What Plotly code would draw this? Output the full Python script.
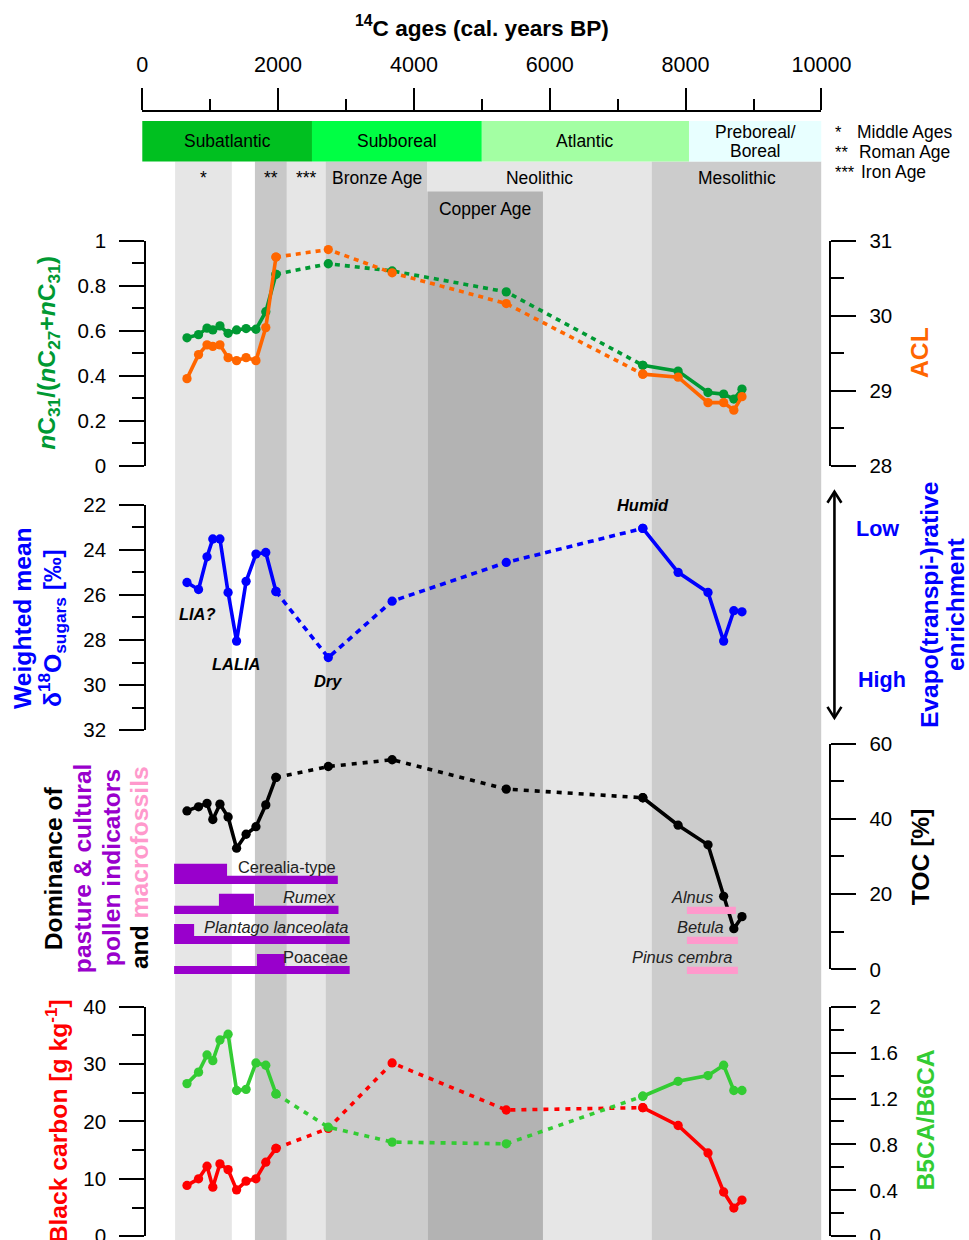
import plotly.graph_objects as go

# Calibration of the rendered page: observed screen position = A + S * figure pixel.
SX, AX = 0.965, 4.7
SY, AY = 0.981, 11.6
W, H = 1000, 1252
FS = 1.028  # font / size compensation for the page scaling

# ---------------- data ----------------
ages = [660, 830, 955, 1040, 1145, 1265, 1390, 1530, 1675, 1820, 1970,
        2740, 3680, 5360, 7370, 7890, 8330, 8560, 8710, 8830]
nc31_ratio = [0.568, 0.582, 0.611, 0.603, 0.621, 0.588, 0.603, 0.609, 0.606, 0.684, 0.850,
              0.897, 0.865, 0.772, 0.446, 0.420, 0.325, 0.318, 0.296, 0.340]
acl = [29.16, 29.48, 29.61, 29.59, 29.61, 29.44, 29.40, 29.44, 29.40, 29.84, 30.78,
       30.88, 30.57, 30.16, 29.22, 29.18, 28.84, 28.84, 28.74, 28.92]
d18o_sugars = [25.45, 25.76, 24.31, 23.52, 23.52, 25.89, 28.05, 25.40, 24.19, 24.12, 25.85,
               28.78, 26.28, 24.56, 23.05, 25.00, 25.89, 28.05, 26.70, 26.75]
toc = [42.1, 43.2, 44.1, 39.8, 43.9, 40.5, 32.2, 35.9, 37.9, 43.7, 51.0,
       53.9, 55.7, 47.9, 45.6, 38.3, 33.1, 19.4, 10.8, 14.0]
black_carbon = [8.85, 10.0, 12.2, 8.55, 12.6, 11.6, 8.08, 9.6, 10.0, 12.9, 15.3,
                18.8, 30.2, 22.0, 22.4, 19.3, 14.5, 7.7, 4.9, 6.3]
b5ca_b6ca = [1.33, 1.43, 1.58, 1.53, 1.71, 1.76, 1.27, 1.28, 1.51, 1.49, 1.24,
             0.95, 0.82, 0.805, 1.22, 1.35, 1.40, 1.49, 1.27, 1.27]

climate_names = ["Subatlantic", "Subboreal", "Atlantic", "Preboreal/<br>Boreal"]
climate_start = [0, 2500, 5000, 8050]
climate_end = [2500, 5000, 8050, 10000]

arch_names = ["*", "**", "***", "Bronze Age", "Neolithic", "Copper Age", "Mesolithic"]
arch_start = [485, 1660, 2130, 2700, 4200, 4200, 7500]
arch_end = [1320, 2130, 2700, 4200, 7500, 5900, 10000]

pollen_taxa = ["Cerealia-type", "<i>Rumex</i>", "<i>Plantago lanceolata</i>", "Poaceae"]
pollen_start = [470, 470, 470, 470]
pollen_end = [2880, 2890, 3055, 3055]
pollen_peak_start = [470, 1130, 470, 1690]
pollen_peak_end = [1250, 1645, 765, 2100]

macro_taxa = ["<i>Alnus</i>", "<i>Betula</i>", "<i>Pinus cembra</i>"]
macro_start = [8020, 8020, 8020]
macro_end = [8740, 8770, 8770]

x_ticks = [0, 2000, 4000, 6000, 8000, 10000]

# ---------------- styles ----------------
FONT = "Liberation Sans, Arial, sans-serif"
GREEN1 = "#009933"
ORANGE = "#ff6600"
BLUE = "#0000ff"
RED = "#ff0000"
GREEN2 = "#33cc33"
PURPLE = "#9900cc"
PINK = "#ff99cc"
climate_colors = ["#00c020", "#00ff44", "#a3ffa3", "#e8ffff"]
arch_colors = {"*": "#e6e6e6", "**": "#c8c8c8", "***": "#e6e6e6", "Bronze Age": "#cccccc",
               "Neolithic": "#e6e6e6", "Copper Age": "#b3b3b3", "Mesolithic": "#cccccc"}


def clamp(v):
    return min(1.0, max(0.0, v))


def px_x(p):
    return clamp(((p - AX) / SX) / W)


def px_y(p):
    return clamp(1 - ((p - AY) / SY) / H)


def fsz(s):
    return round(s * FS, 2)


fig = go.Figure()

LW = 3.6
MS = 9.3


def add_series(vals, yaxis, color, dash):
    first = list(range(0, 11))
    last = list(range(14, len(ages)))
    xs = [ages[i] for i in first] + [None] + [ages[i] for i in last]
    ys = [vals[i] for i in first] + [None] + [vals[i] for i in last]
    fig.add_trace(go.Scatter(x=xs, y=ys, xaxis="x", yaxis=yaxis, mode="lines+markers",
                             line=dict(color=color, width=LW), marker=dict(color=color, size=MS),
                             connectgaps=False, hoverinfo="skip"))
    fig.add_trace(go.Scatter(x=ages[10:15], y=vals[10:15], xaxis="x", yaxis=yaxis,
                             mode="lines+markers",
                             line=dict(color=color, width=LW, dash=dash),
                             marker=dict(color=color, size=MS), hoverinfo="skip"))


add_series(acl, "y2", ORANGE, "5px,5px")
add_series(nc31_ratio, "y", GREEN1, "5px,5px")
add_series(d18o_sugars, "y3", BLUE, "6px,5px")
add_series(toc, "y4", "black", "5px,6px")
add_series(b5ca_b6ca, "y7", GREEN2, "5px,6px")
add_series(black_carbon, "y6", RED, "5px,6px")

# pollen step bars (row units on hidden axis y5)
LOW, HIGH = 0.27, 0.67
for i, name in enumerate(pollen_taxa):
    r = 3 - i
    s, e, ps, pe = pollen_start[i], pollen_end[i], pollen_peak_start[i], pollen_peak_end[i]
    xs = [s, e, e, pe, pe, ps, ps, s, s]
    ys = [r, r, r + LOW, r + LOW, r + HIGH, r + HIGH, r + LOW, r + LOW, r]
    fig.add_trace(go.Scatter(x=xs, y=ys, xaxis="x", yaxis="y5", mode="lines", fill="toself",
                             fillcolor=PURPLE, line=dict(width=0, color=PURPLE), hoverinfo="skip"))
for i, name in enumerate(macro_taxa):
    r = 2 - i
    s, e = macro_start[i], macro_end[i]
    fig.add_trace(go.Scatter(x=[s, e, e, s, s], y=[r, r, r + 0.24, r + 0.24, r], xaxis="x", yaxis="y5",
                             mode="lines", fill="toself", fillcolor=PINK,
                             line=dict(width=0, color=PINK), hoverinfo="skip"))

shapes = []
# archaeological background bands
for i, name in enumerate(arch_names):
    top = 191 if name == "Copper Age" else 161
    shapes.append(dict(type="rect", xref="x", yref="paper", x0=arch_start[i], x1=arch_end[i],
                       y0=0, y1=px_y(top), fillcolor=arch_colors[name], line=dict(width=0),
                       layer="below"))
# climate boxes
for i, name in enumerate(climate_names):
    shapes.append(dict(type="rect", xref="x", yref="paper", x0=climate_start[i], x1=climate_end[i],
                       y0=px_y(161), y1=px_y(120.5), fillcolor=climate_colors[i], line=dict(width=0),
                       layer="below"))
# double arrow for evaporative enrichment
ax_x = 834
shapes.append(dict(type="line", xref="paper", yref="paper", x0=px_x(ax_x), x1=px_x(ax_x),
                   y0=px_y(492), y1=px_y(716), line=dict(color="black", width=2.6)))
shapes.append(dict(type="path", xref="paper", yref="paper",
                   path=f"M {px_x(827)},{px_y(502)} L {px_x(ax_x)},{px_y(491)} L {px_x(841)},{px_y(502)}",
                   line=dict(color="black", width=2.6)))
shapes.append(dict(type="path", xref="paper", yref="paper",
                   path=f"M {px_x(827)},{px_y(706)} L {px_x(ax_x)},{px_y(717)} L {px_x(841)},{px_y(706)}",
                   line=dict(color="black", width=2.6)))

annotations = []


def ann(text, x, y, size, color="black", xref="paper", yref="paper", angle=0,
        xanchor="center", yanchor="middle"):
    annotations.append(dict(text=text, x=x, y=y, xref=xref, yref=yref, showarrow=False,
                            font=dict(size=fsz(size), color=color, family=FONT), textangle=angle,
                            xanchor=xanchor, yanchor=yanchor))


# title
ann("<b><sup>14</sup>C ages (cal. years BP)</b>", px_x(481), px_y(26), 22)
# climate labels (multi-line names split into separate lines)
for i, name in enumerate(climate_names):
    lines = name.split("<br>")
    cx = (climate_start[i] + climate_end[i]) / 2
    for j, ln in enumerate(lines):
        yy = 141 + (j - (len(lines) - 1) / 2) * 19
        ann(ln, cx, px_y(yy), 17, xref="x")
# archaeology labels
for i, name in enumerate(arch_names):
    cx = (arch_start[i] + arch_end[i]) / 2
    ann(name, cx, px_y(208 if name == "Copper Age" else 177), 17, xref="x")
# legend for stars
for k, (stars, label, lx) in enumerate([("*", "Middle Ages", 855), ("**", "Roman Age", 857),
                                        ("***", "Iron Age", 859)]):
    yy = px_y(132 + 19.5 * k)
    ann(stars, px_x(833), yy, 16, xanchor="left")
    ann(label, px_x(lx), yy, 17, xanchor="left")

# panel 1 titles
ann("<b><i>n</i>C<sub>31</sub>/(<i>n</i>C<sub>27</sub>+<i>n</i>C<sub>31</sub>)</b>",
    px_x(47), px_y(352), 24, GREEN1, angle=-90)
ann("<b>ACL</b>", px_x(919), px_y(352), 24, ORANGE, angle=-90)

# panel 2 titles
ann("<b>Weighted mean</b>", px_x(22), px_y(617), 24, BLUE, angle=-90)
ann("<b>δ<sup>18</sup>O<sub>sugars</sub> [‰]</b>", px_x(51), px_y(627), 24, BLUE, angle=-90)
ann("<b>Evapo(transpi-)rative</b>", px_x(929), px_y(604), 24, BLUE, angle=-90)
ann("<b>enrichment</b>", px_x(955), px_y(604), 24, BLUE, angle=-90)
ann("<b>Low</b>", px_x(877), px_y(528), 21, BLUE)
ann("<b>High</b>", px_x(882), px_y(679), 21, BLUE)
ann("<b><i>LIA?</i></b>", 808, 26.84, 16, xref="x", yref="y3")
ann("<b><i>LALIA</i></b>", 1380, 29.06, 16, xref="x", yref="y3")
ann("<b><i>Dry</i></b>", 2731, 29.81, 16, xref="x", yref="y3")
ann("<b><i>Humid</i></b>", 7372, 22.0, 16, xref="x", yref="y3")

# panel 3 titles
ann("<b>Dominance of</b>", px_x(53), px_y(867), 24, "black", angle=-90)
ann("<b>pasture &amp; cultural</b>", px_x(82), px_y(867), 24, PURPLE, angle=-90)
ann("<b>pollen indicators</b>", px_x(111), px_y(867), 24, PURPLE, angle=-90)
ann(f"<b>and <span style='color:{PINK}'>macrofossils</span></b>", px_x(139), px_y(867), 24,
    "black", angle=-90)
ann("<b>TOC [%]</b>", px_x(921), px_y(856), 24, "black", angle=-90)
for i, name in enumerate(pollen_taxa):
    ann(name, pollen_end[i], 3 - i + 0.56, 16, "#222222", xref="x", yref="y5", xanchor="right")
macro_label_x = [8430, 8590, 8722]
for i, name in enumerate(macro_taxa):
    ann(name, macro_label_x[i], 2 - i + 0.56, 16, "#222222", xref="x", yref="y5", xanchor="right")

# panel 4 titles
ann("<b>Black carbon [g kg<sup>-1</sup>]</b>", px_x(55), px_y(1120), 24, RED, angle=-90)
ann("<b>B5CA/B6CA</b>", px_x(925), px_y(1119), 24, GREEN2, angle=-90)

YT = 24 / SX  # horizontal tick length in figure px
XT = 22 / SY  # vertical tick length in figure px


def yax(top_px, bot_px, rng, side, pos_px, tickvals, minor_vals, ticktext=None, overlay=None):
    d = dict(range=rng, anchor="free", position=px_x(pos_px), side=side, showline=True,
             linecolor="black", linewidth=2, ticks="outside", ticklen=YT, tickwidth=2,
             tickcolor="black", tickvals=tickvals, ticktext=ticktext or [str(v) for v in tickvals],
             minor=dict(tickvals=minor_vals, ticklen=YT / 2, tickwidth=2, tickcolor="black",
                        ticks="outside"),
             showgrid=False, zeroline=False, tickfont=dict(size=fsz(20), color="black", family=FONT),
             ticklabelstandoff=9, fixedrange=True)
    if overlay:
        d["overlaying"] = overlay
    else:
        d["domain"] = [px_y(bot_px), px_y(top_px)]
    return d


fig.update_layout(
    width=W, height=H, margin=dict(l=0, r=0, t=0, b=0),
    paper_bgcolor="white", plot_bgcolor="rgba(0,0,0,0)", showlegend=False,
    font=dict(family=FONT, color="black"),
    xaxis=dict(domain=[px_x(141), px_x(821)], range=[0, 10000], anchor="free", position=px_y(111),
               side="top", showline=True, linecolor="black", linewidth=2, ticks="outside",
               ticklen=XT, tickwidth=2, tickcolor="black", tickvals=x_ticks,
               ticktext=[str(v) for v in x_ticks],
               minor=dict(tickvals=[1000, 3000, 5000, 7000, 9000], ticklen=XT / 2, tickwidth=2,
                          tickcolor="black", ticks="outside"),
               showgrid=False, zeroline=False, tickfont=dict(size=fsz(21), color="black", family=FONT),
               ticklabelstandoff=7, fixedrange=True),
    yaxis=yax(240, 465, [0, 1], "left", 144, [0, 0.2, 0.4, 0.6, 0.8, 1],
              [0.1, 0.3, 0.5, 0.7, 0.9], ["0", "0.2", "0.4", "0.6", "0.8", "1"]),
    yaxis2=yax(240, 465, [28, 31], "right", 830, [28, 29, 30, 31], [28.5, 29.5, 30.5],
               overlay="y"),
    yaxis3=yax(504, 729.3, [32, 22], "left", 144, [22, 24, 26, 28, 30, 32], [23, 25, 27, 29, 31]),
    yaxis4=yax(742.7, 968.3, [0, 60], "right", 830, [0, 20, 40, 60], [10, 30, 50]),
    yaxis5=dict(domain=[px_y(985), px_y(735)], range=[-0.4, 7.933], anchor="free",
                position=0.5, visible=False, fixedrange=True, showgrid=False, zeroline=False),
    yaxis6=yax(1005.7, 1235, [0, 40], "left", 144, [0, 10, 20, 30, 40], [5, 15, 25, 35]),
    yaxis7=yax(1005.7, 1235, [0, 2], "right", 830, [0, 0.4, 0.8, 1.2, 1.6, 2],
               [0.2, 0.6, 1.0, 1.4, 1.8], ["0", "0.4", "0.8", "1.2", "1.6", "2"], overlay="y6"),
    shapes=shapes,
    annotations=annotations,
)

fig.write_html("out.html")
